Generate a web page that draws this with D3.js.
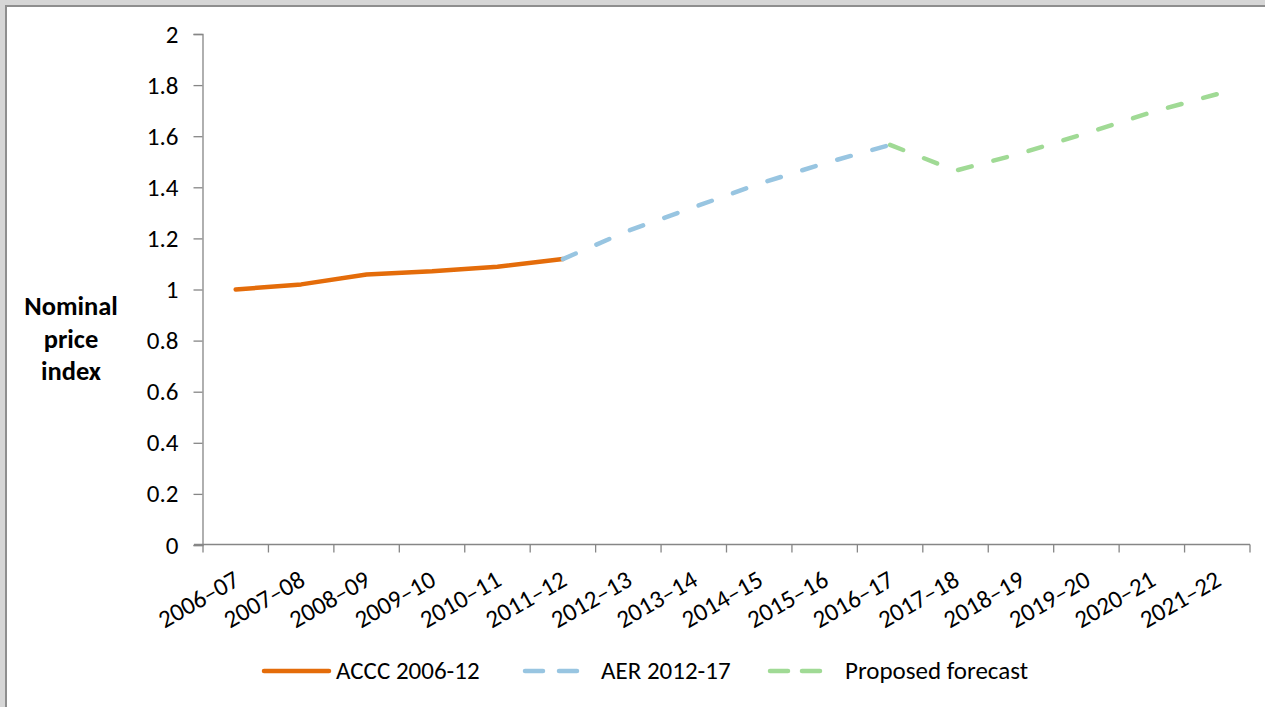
<!DOCTYPE html>
<html>
<head>
<meta charset="utf-8">
<script src="https://cdn.jsdelivr.net/npm/d3@7"></script>
<style>
  html, body { margin: 0; padding: 0; background: #fff; }
  svg { display: block; }
  text { font-family: Carlito, Calibri, Lato, "Liberation Sans", sans-serif; fill: #000; }
</style>
</head>
<body>
<svg id="chart" width="1265" height="707"></svg>
<script>
// Financial years on the category axis
const categories = ["2006–07", "2007–08", "2008–09", "2009–10", "2010–11", "2011–12",
  "2012–13", "2013–14", "2014–15", "2015–16", "2016–17", "2017–18", "2018–19",
  "2019–20", "2020–21", "2021–22"];

// Nominal price index per series (each series starts at its own year)
const acccYears = ["2006–07", "2007–08", "2008–09", "2009–10", "2010–11", "2011–12"];
const acccValues = [1.000, 1.020, 1.059, 1.071, 1.089, 1.119];

const aerYears = ["2011–12", "2012–13", "2013–14", "2014–15", "2015–16", "2016–17"];
const aerValues = [1.119, 1.230, 1.322, 1.414, 1.494, 1.566];

const forecastYears = ["2016–17", "2017–18", "2018–19", "2019–20", "2020–21", "2021–22"];
const forecastValues = [1.566, 1.465, 1.533, 1.612, 1.694, 1.765];

const yTicks = [0, 0.2, 0.4, 0.6, 0.8, 1, 1.2, 1.4, 1.6, 1.8, 2];
const seriesNames = ["ACCC 2006-12", "AER 2012-17", "Proposed forecast"];

const svg = d3.select("#chart");
const W = 1265, H = 707;
const axisColor = "#868686";
const colors = ["#E46C0A", "#98C5E1", "#A0DA95"];

// Window frame
svg.append("rect").attr("x", 0).attr("y", 0).attr("width", W).attr("height", H).attr("fill", "#fff");
svg.append("rect").attr("x", 0).attr("y", 0).attr("width", W).attr("height", 5).attr("fill", "#d6d6d6");
svg.append("rect").attr("x", 0).attr("y", 0).attr("width", 5).attr("height", H).attr("fill", "#d6d6d6");
svg.append("rect").attr("x", 5).attr("y", 5).attr("width", W - 5).attr("height", 2).attr("fill", "#8e8e8e");
svg.append("rect").attr("x", 5).attr("y", 5).attr("width", 2).attr("height", H - 5).attr("fill", "#8e8e8e");

const plot = { left: 203, right: 1250, top: 34, bottom: 545 };

const x = d3.scaleBand().domain(categories).range([plot.left, plot.right]).padding(0);
const cx = c => x(c) + x.bandwidth() / 2;
const y = d3.scaleLinear().domain([0, 2]).range([plot.bottom, plot.top]);

// Y axis
const yAxis = d3.axisLeft(y).tickValues(yTicks).tickSize(9).tickPadding(15)
  .tickFormat(d => d3.format("~g")(d));
const gy = svg.append("g").attr("transform", `translate(${plot.left - 0.5},0)`).call(yAxis);
gy.select(".domain").attr("stroke", axisColor).attr("stroke-width", 1.3);
gy.selectAll(".tick line").attr("stroke", axisColor).attr("stroke-width", 1.3);
gy.selectAll(".tick text").attr("font-size", 25).attr("font-family", null).attr("dy", "0.32em");

// X axis: ticks on category boundaries
const gx = svg.append("g").attr("transform", `translate(0,${plot.bottom - 0.5})`);
gx.append("line").attr("x1", plot.left - 9).attr("x2", plot.right)
  .attr("stroke", axisColor).attr("stroke-width", 1.3);
const bounds = categories.map(c => x(c)).concat([plot.right]);
gx.selectAll("line.tk").data(bounds).join("line").attr("class", "tk")
  .attr("x1", d => d).attr("x2", d => d).attr("y1", 0).attr("y2", 8)
  .attr("stroke", axisColor).attr("stroke-width", 1.3);
gx.selectAll("text").data(categories).join("text")
  .attr("transform", d => `translate(${cx(d) + 5.5},${585 - plot.bottom}) rotate(-30)`)
  .attr("text-anchor", "end").attr("font-size", 25).text(d => d);

// Axis title
const title = svg.append("text").attr("x", 71).attr("y", 315).attr("text-anchor", "middle")
  .attr("font-size", 26.5).attr("font-weight", "bold");
["Nominal", "price", "index"].forEach((t, i) =>
  title.append("tspan").attr("x", 71).attr("dy", i === 0 ? 0 : 32.5).text(t));

// Series lines
const line = d3.line().x(d => cx(d[0])).y(d => y(d[1]));
const series = [
  { years: acccYears, values: acccValues, dash: null },
  { years: aerYears, values: aerValues, dash: "14,22.5" },
  { years: forecastYears, values: forecastValues, dash: "14,22.5" }
];
series.forEach((s, i) => {
  svg.append("path")
    .datum(s.years.map((yr, j) => [yr, s.values[j]]))
    .attr("d", line)
    .attr("fill", "none")
    .attr("stroke", colors[i])
    .attr("stroke-width", 4.5)
    .attr("stroke-linecap", "round")
    .attr("stroke-linejoin", "round")
    .attr("stroke-dasharray", s.dash);
});

// Legend
const legendY = 671;
const legendItems = [
  { x1: 264, x2: 329, tx: 336, dash: null },
  { x1: 525, x2: 578, tx: 601, dash: "18,16" },
  { x1: 770, x2: 821, tx: 845, dash: "18,14" }
];
legendItems.forEach((it, i) => {
  svg.append("line").attr("x1", it.x1).attr("x2", it.x2).attr("y1", legendY).attr("y2", legendY)
    .attr("stroke", colors[i]).attr("stroke-width", 4.5)
    .attr("stroke-linecap", "round")
    .attr("stroke-dasharray", it.dash);
  svg.append("text").attr("x", it.tx).attr("y", legendY).attr("dy", "0.33em")
    .attr("font-size", 25).text(seriesNames[i]);
});
</script>
</body>
</html>
